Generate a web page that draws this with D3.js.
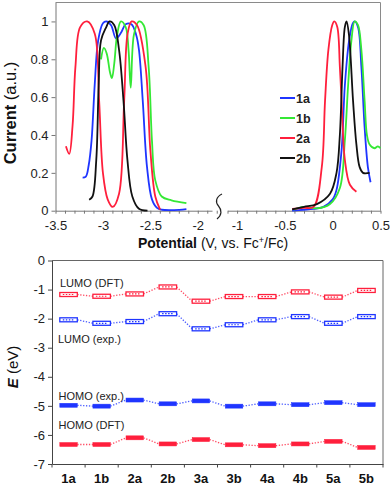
<!DOCTYPE html>
<html>
<head>
<meta charset="utf-8">
<script src="https://cdn.jsdelivr.net/npm/d3@7"></script>
<style>
  body { margin: 0; background: #fff; }
  svg { display: block; font-family: "Liberation Sans", Arial, sans-serif; }
</style>
</head>
<body>
<svg id="chart" width="391" height="486"></svg>
<script>
// ---- top panel: DPV curves, [potential, current] ----
const cv1a = [[-3.214,0.175],[-3.18,0.18],[-3.15,0.24],[-3.12,0.37],[-3.086,0.67],[-3.05,0.9],[-3.0,0.99],[-2.965,1.0],[-2.914,0.98],[-2.862,0.91],[-2.81,0.94],[-2.76,0.985],[-2.70,0.985],[-2.65,0.93],[-2.62,0.85],[-2.58,0.58],[-2.535,0.23],[-2.483,0.06],[-2.43,0.015],[-2.38,0.005],[-2.25,0.003],[-2.12,0.008],
  [-0.424,0.0],[-0.3,0.005],[-0.2,0.01],[-0.097,0.02],[0.0,0.06],[0.04,0.11],[0.093,0.32],[0.127,0.66],[0.172,0.9],[0.21,0.99],[0.23,1.0],[0.265,0.97],[0.3,0.76],[0.334,0.44],[0.368,0.23],[0.396,0.15]];
const cv1b = [[-3.02,0.8],[-2.99,0.86],[-2.96,0.83],[-2.925,0.73],[-2.905,0.70],[-2.88,0.78],[-2.85,0.93],[-2.81,1.0],[-2.76,0.97],[-2.73,0.85],[-2.707,0.65],[-2.673,0.93],[-2.62,1.0],[-2.57,0.98],[-2.518,0.76],[-2.483,0.37],[-2.448,0.16],[-2.38,0.075],[-2.277,0.055],[-2.12,0.04],
  [-0.41,0.005],[-0.304,0.02],[-0.166,0.012],[-0.028,0.035],[0.075,0.12],[0.127,0.37],[0.161,0.66],[0.196,0.9],[0.23,1.0],[0.265,0.98],[0.3,0.85],[0.334,0.58],[0.358,0.4],[0.386,0.35],[0.437,0.33],[0.472,0.34],[0.5,0.33]];
const cv2a = [[-3.39,0.34],[-3.355,0.30],[-3.32,0.45],[-3.29,0.76],[-3.24,0.97],[-3.166,1.0],[-3.086,0.935],[-3.04,0.58],[-3.0,0.2],[-2.95,0.06],[-2.897,0.02],[-2.83,0.09],[-2.776,0.58],[-2.74,0.935],[-2.697,1.0],[-2.64,0.98],[-2.55,0.76],[-2.5,0.32],[-2.448,0.075],[-2.397,0.005],
  [-0.424,0.01],[-0.3,0.015],[-0.2,0.02],[-0.114,0.23],[-0.08,0.58],[-0.045,0.85],[-0.005,0.98],[0.017,1.0],[0.048,0.97],[0.075,0.76],[0.093,0.58],[0.127,0.27],[0.18,0.137],[0.248,0.1]];
const cv2b = [[-3.145,0.058],[-3.11,0.075],[-3.07,0.27],[-3.045,0.66],[-3.02,0.9],[-2.965,0.97],[-2.93,1.0],[-2.88,0.98],[-2.83,0.85],[-2.783,0.58],[-2.742,0.27],[-2.69,0.075],[-2.62,0.01],[-2.53,0.0],
  [-0.424,0.007],[-0.3,0.02],[-0.166,0.035],[-0.028,0.09],[0.04,0.2],[0.075,0.4],[0.103,0.76],[0.127,0.97],[0.145,1.0],[0.17,0.93],[0.213,0.58],[0.248,0.35],[0.282,0.23],[0.317,0.2],[0.386,0.2]];
const cvNames = ["1a", "1b", "2a", "2b"];
const cvColors = ["#1f35ff", "#35e835", "#ff1f3c", "#111111"];
const currentTicks = [0, 0.2, 0.4, 0.6, 0.8, 1];
const potLeftTicks = [-3.5, -3, -2.5, -2];
const potRightTicks = [-1, -0.5, 0, 0.5];

// ---- bottom panel: frontier orbital energies (eV) ----
const compounds = ["1a", "1b", "2a", "2b", "3a", "3b", "4a", "4b", "5a", "5b"];
const lumoDFT = [-1.17, -1.23, -1.15, -0.91, -1.40, -1.24, -1.24, -1.08, -1.26, -1.03];
const lumoExp = [-2.04, -2.16, -2.10, -1.83, -2.35, -2.21, -2.04, -1.93, -2.16, -1.93];
const homoExp = [-4.98, -5.01, -4.80, -4.93, -4.83, -5.01, -4.93, -4.96, -4.89, -4.96];
const homoDFT = [-6.33, -6.33, -6.10, -6.31, -6.16, -6.34, -6.37, -6.31, -6.22, -6.43];
const energyTicks = [0, -1, -2, -3, -4, -5, -6, -7];

const RED = "#ff1f3c", BLUE = "#1f35ff";
const plain = d => String(Math.round(d * 10) / 10);   // hyphen minus, no trailing .0
const svg = d3.select("#chart");

// ================= top panel =================
const xL = d3.scaleLinear().domain([-3.5, -1.85]).range([55.5, 212]);
const xR = d3.scaleLinear().domain([-1.1, 0.5]).range([227.5, 380.5]);
const xPot = v => v < -1.5 ? xL(v) : xR(v);
const yCur = d3.scaleLinear().domain([0, 1.1]).range([210.7, 2.5]);

// frame (top + right)
svg.append("path")
  .attr("d", `M${xL.range()[0]},${yCur(1.1)}H${xR.range()[1]}V${yCur(0)}`)
  .attr("fill", "none").attr("stroke", "#8a8a8a").attr("stroke-width", 1);

const yAxT = svg.append("g")
  .attr("transform", `translate(${xL.range()[0]},0)`)
  .call(d3.axisLeft(yCur).tickValues(currentTicks).tickSize(4).tickSizeOuter(0).tickFormat(plain));

function potAxis(scale, majors) {
  const lo = scale.domain()[0], hi = scale.domain()[1];
  const vals = d3.range(Math.round(lo * 10), Math.round(hi * 10) + 1).map(d => d / 10);
  return d3.axisBottom(scale).tickValues(vals).tickSize(3).tickSizeOuter(0)
    .tickFormat(d => majors.some(m => Math.abs(m - d) < 1e-6) ? plain(d) : "");
}
const xAxL = svg.append("g").attr("transform", `translate(0,${yCur(0)})`).call(potAxis(xL, potLeftTicks));
const xAxR = svg.append("g").attr("transform", `translate(0,${yCur(0)})`).call(potAxis(xR, potRightTicks));

[yAxT, xAxL, xAxR].forEach(g => {
  g.selectAll("path, line").attr("stroke", "#777");
  g.selectAll("text").attr("font-size", 13).attr("fill", "#222");
});
xAxL.selectAll("text").attr("dy", "1.05em");
xAxR.selectAll("text").attr("dy", "1.05em");

// axis break squiggle
svg.append("path")
  .attr("d", "M222,194 C216,197 215,202 218.5,206 C222,210 222,215 217,219")
  .attr("fill", "none").attr("stroke", "#222").attr("stroke-width", 1.2);

const line = d3.line().x(d => xPot(d[0])).y(d => yCur(d[1])).curve(d3.curveCatmullRom.alpha(0.5));
[cv1a, cv1b, cv2a, cv2b].forEach((s, i) => {
  const left = s.filter(d => d[0] < -1.5), right = s.filter(d => d[0] >= -1.5);
  [left, right].forEach(part => {
    svg.append("path").datum(part).attr("d", line)
      .attr("fill", "none").attr("stroke", cvColors[i]).attr("stroke-width", 1.8);
  });
});

// legend
const leg = svg.append("g");
cvNames.forEach((n, i) => {
  const y = 98 + i * 20;
  leg.append("line").attr("x1", 280).attr("x2", 295).attr("y1", y).attr("y2", y)
    .attr("stroke", cvColors[i]).attr("stroke-width", 2);
  leg.append("text").attr("x", 296).attr("y", y + 4.5).attr("font-size", 12.5)
    .attr("font-weight", "bold").attr("fill", "#222").text(n);
});

// titles
svg.append("text").attr("transform", "translate(16,113) rotate(-90)")
  .attr("text-anchor", "middle").attr("font-size", 16.5).attr("fill", "#111")
  .call(t => {
    t.append("tspan").attr("font-weight", "bold").text("Current");
    t.append("tspan").text(" (a.u.)");
  });
svg.append("text").attr("x", 213).attr("y", 248)
  .attr("text-anchor", "middle").attr("font-size", 14).attr("fill", "#111")
  .call(t => {
    t.append("tspan").attr("font-weight", "bold").text("Potential");
    t.append("tspan").text(" (V, vs. Fc");
    t.append("tspan").attr("font-size", 9).attr("dy", -5).text("+");
    t.append("tspan").attr("dy", 5).text("/Fc)");
  });

// ================= bottom panel =================
const xC = d3.scaleBand().domain(compounds).range([52, 383]);
const yE = d3.scaleLinear().domain([-7, 0]).range([464, 260.5]);

svg.append("path")
  .attr("d", `M52,${yE(0)}H383V${yE(-7)}`)
  .attr("fill", "none").attr("stroke", "#666").attr("stroke-width", 1);

const yAxB = svg.append("g").attr("transform", "translate(52,0)")
  .call(d3.axisLeft(yE).tickValues(energyTicks).tickSize(4).tickSizeOuter(0).tickFormat(plain));
const xAxB = svg.append("g").attr("transform", `translate(0,${yE(-7)})`)
  .call(d3.axisBottom(xC).tickSize(0).tickSizeOuter(0));
xAxB.selectAll(".tick text").attr("y", 19).attr("dy", 0)
  .attr("font-size", 13).attr("font-weight", "bold").attr("fill", "#111");
// boundary ticks between categories
xAxB.selectAll(".sep").data(d3.range(compounds.length + 1)).join("line")
  .attr("class", "sep")
  .attr("x1", i => 52 + i * xC.step()).attr("x2", i => 52 + i * xC.step())
  .attr("y1", 0).attr("y2", 3.5);
[yAxB, xAxB].forEach(g => g.selectAll("path, line").attr("stroke", "#444"));
yAxB.selectAll("text").attr("font-size", 13).attr("fill", "#222");

const barW = 17.5, barH = 4;
function levels(vals, color, filled) {
  const g = svg.append("g");
  // dotted connectors
  g.selectAll("line.conn").data(d3.pairs(vals.map((v, i) => [compounds[i], v]))).join("line")
    .attr("class", "conn")
    .attr("x1", d => xC(d[0][0]) + xC.bandwidth() / 2 + barW / 2)
    .attr("y1", d => yE(d[0][1]))
    .attr("x2", d => xC(d[1][0]) + xC.bandwidth() / 2 - barW / 2)
    .attr("y2", d => yE(d[1][1]))
    .attr("stroke", color).attr("stroke-width", 1.3).attr("stroke-dasharray", "1.3,1.6")
    .attr("opacity", 0.8);
  g.selectAll("rect").data(vals).join("rect")
    .attr("x", (d, i) => xC(compounds[i]) + xC.bandwidth() / 2 - barW / 2)
    .attr("y", d => yE(d) - barH / 2)
    .attr("width", barW).attr("height", barH)
    .attr("fill", filled ? color : "#fff")
    .attr("stroke", color).attr("stroke-width", filled ? 0.5 : 1.3);
  if (!filled) {
    g.selectAll("line.in").data(vals).join("line")
      .attr("class", "in")
      .attr("x1", (d, i) => xC(compounds[i]) + xC.bandwidth() / 2 - barW / 2 + 3)
      .attr("x2", (d, i) => xC(compounds[i]) + xC.bandwidth() / 2 + barW / 2 - 3)
      .attr("y1", d => yE(d)).attr("y2", d => yE(d))
      .attr("stroke", color).attr("stroke-width", 1.2).attr("stroke-dasharray", "1.5,1.5");
  }
}
levels(lumoDFT, RED, false);
levels(lumoExp, BLUE, false);
levels(homoExp, BLUE, true);
levels(homoDFT, RED, true);

const notes = [["LUMO (DFT)", 60, 287], ["LUMO (exp.)", 58, 343], ["HOMO (exp.)", 58.5, 400], ["HOMO (DFT)", 58.5, 429]];
svg.selectAll("text.note").data(notes).join("text")
  .attr("class", "note").attr("x", d => d[1]).attr("y", d => d[2])
  .attr("font-size", 11).attr("fill", "#222").text(d => d[0]);

svg.append("text").attr("transform", "translate(18,367) rotate(-90)")
  .attr("text-anchor", "middle").attr("font-size", 15).attr("fill", "#111")
  .call(t => {
    t.append("tspan").attr("font-weight", "bold").attr("font-style", "italic").text("E");
    t.append("tspan").text(" (eV)");
  });
</script>
</body>
</html>
